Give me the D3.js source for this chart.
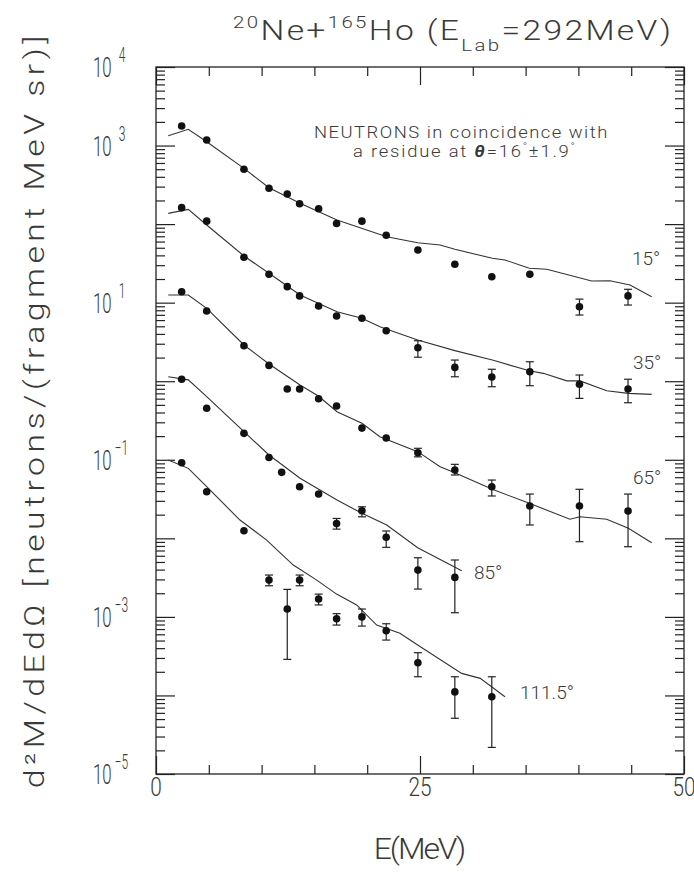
<!DOCTYPE html>
<html><head><meta charset="utf-8">
<script src="https://cdn.jsdelivr.net/npm/d3@7"></script>
<style>
body{margin:0;background:#fff}
text{font-family:Roboto,'DejaVu Sans',sans-serif;font-weight:300;fill:#3a3a3a}
</style></head>
<body><svg id="c" width="694" height="872"></svg>
<script>
// ---------- data ----------
const seriesLabels = ["15°","35°","65°","85°","111.5°"];
const E_full = [2.43,4.8,8.33,10.7,12.43,13.6,15.4,17.1,19.5,21.8,24.8,28.3,31.8,35.4,40.1,44.7];
const E_85   = [2.43,4.8,8.33,10.7,11.9,13.6,15.4,17.1,19.5,21.8,24.8,28.3];
const E_111  = [2.43,4.8,8.33,10.7,12.43,13.6,15.4,17.1,19.5,21.8,24.8,28.3,31.8];

const V15 = [1774,1177,499,286,242,182,157,102,109,72,46.8,30.8,21.4,23.0,8.88,12.2];
const V35 = [162,109,37.8,23.0,16.0,12.2,9.07,6.76,6.32,4.40,2.67,1.50,1.13,1.32,0.914,0.796];
const V65 = [13.8,7.83,2.83,1.59,0.796,0.796,0.598,0.483,0.253,0.189,0.123,0.0740,0.0454,0.0258,0.0258,0.0223];
const V85 = [1.06,0.452,0.217,0.107,0.0692,0.0454,0.0366,0.0154,0.0224,0.0103,0.00394,0.00318];
const V111 = [0.0917,0.0392,0.0125,0.00294,0.00126,0.00294,0.00169,0.000946,0.00100,0.000667,0.000261,0.000111,0.0000962];

const N = null;
const LO15 = [N,N,N,N,N,N,N,N,N,N,N,N,N,N,6.96,9.33];
const HI15 = [N,N,N,N,N,N,N,N,N,N,N,N,N,N,11.1,14.8];
const LO35 = [N,N,N,N,N,N,N,N,N,N,2.02,1.14,0.851,0.877,0.605,0.532];
const HI35 = [N,N,N,N,N,N,N,N,N,N,3.28,1.86,1.42,1.77,1.20,1.06];
const LO65 = [N,N,N,N,N,N,N,N,N,N,0.109,0.0640,0.0346,0.0148,0.00906,0.00782];
const HI65 = [N,N,N,N,N,N,N,N,N,N,0.140,0.0875,0.0552,0.0366,0.0421,0.0366];
const LO85 = [N,N,N,N,N,N,N,0.0131,0.0188,0.00768,0.00226,0.00113];
const HI85 = [N,N,N,N,N,N,N,0.0179,0.0252,0.0124,0.00566,0.00530];
const LO111 = [N,N,N,0.00249,0.000288,0.00249,0.00142,0.000787,0.000764,0.000507,0.000173,0.0000512,0.0000218];
const HI111 = [N,N,N,0.00341,0.00224,0.00341,0.00195,0.00110,0.00126,0.000818,0.000350,0.000173,0.000173];

const C15E = [1.16,3.06,4.8,8.33,10.7,13.64,17.14,21.85,24.78,26.9,28.3,31.85,33.05,35.35,37.0,41.26,42.99,44.89,46.94];
const C15V = [1334,1610,1119,513,290,184,113,69.2,58.0,54.2,47.8,36.7,34.9,27.4,26.6,18.9,19.0,16.8,11.9];
const C35E = [1.16,3.06,4.8,8.33,10.7,13.64,17.14,19.5,21.2,24.78,28.3,31.85,35.35,36.68,38.9,40.15,42.68,44.73,46.94];
const C35V = [137,154,97.5,39.3,23.7,12.5,7.67,6.32,4.94,3.35,2.45,1.86,1.36,1.26,1.01,1.01,0.757,0.701,0.681];
const C65E = [1.16,3.06,4.8,8.33,10.7,13.64,15.37,17.14,19.5,21.2,24.78,26.9,28.3,31.85,35.35,39.2,40.15,42.68,44.73,46.94];
const C65V = [12.5,12.5,8.47,2.89,1.66,0.895,0.649,0.409,0.291,0.197,0.127,0.0815,0.0684,0.0421,0.0279,0.0175,0.0188,0.0175,0.0134,0.00879];
const C85E = [1.16,3.06,4.8,8.33,10.7,13.64,17.14,19.5,21.85,24.78,28.95];
const C85V = [1.14,1.04,0.635,0.228,0.115,0.0581,0.0308,0.0208,0.0148,0.0076,0.00387];
const C111E = [1.16,3.06,4.8,7.95,10.48,13.0,15.22,17.1,19.0,20.9,23.1,24.78,28.95,30.7,33.05];
const C111V = [0.0993,0.0778,0.0454,0.0171,0.00951,0.00457,0.00294,0.00195,0.00142,0.000787,0.000618,0.000439,0.000191,0.000165,0.0000962];

const xTickLabels = ["0","25","50"];
const yLabelExp = ["4","3","1","−1","−3","−5"];
const yLabelVals = [1e4,1e3,1e1,1e-1,1e-3,1e-5];

// ---------- layout ----------
const L=156, R=684, T=67, B=774;
const svg = d3.select("#c");
const x = d3.scaleLinear().domain([0,50]).range([L,R]);
const y = d3.scaleLog().domain([1e-5,1e4]).range([B,T]);

const series = [
  {E:E_full,V:V15,lo:LO15,hi:HI15,cE:C15E,cV:C15V},
  {E:E_full,V:V35,lo:LO35,hi:HI35,cE:C35E,cV:C35V},
  {E:E_full,V:V65,lo:LO65,hi:HI65,cE:C65E,cV:C65V},
  {E:E_85,V:V85,lo:LO85,hi:HI85,cE:C85E,cV:C85V},
  {E:E_111,V:V111,lo:LO111,hi:HI111,cE:C111E,cV:C111V}
];

// frame
svg.append("rect").attr("x",L).attr("y",T).attr("width",R-L).attr("height",B-T)
  .attr("fill","none").attr("stroke","#222").attr("stroke-width",1.3);

// ticks via d3 axes
const majX=[0,25,50], minX=d3.range(5,50,5).filter(v=>v!==25);
const axisStyle = g=>{g.select(".domain").remove();g.selectAll("line").attr("stroke","#222").attr("stroke-width",1.2);g.selectAll("text").remove();};
svg.append("g").attr("transform",`translate(0,${B})`).call(d3.axisTop(x).tickValues(majX).tickSize(18)).call(axisStyle);
svg.append("g").attr("transform",`translate(0,${B})`).call(d3.axisTop(x).tickValues(minX).tickSize(9)).call(axisStyle);
svg.append("g").attr("transform",`translate(0,${T})`).call(d3.axisBottom(x).tickValues(majX).tickSize(18)).call(axisStyle);
svg.append("g").attr("transform",`translate(0,${T})`).call(d3.axisBottom(x).tickValues(minX).tickSize(9)).call(axisStyle);

const majY = d3.range(-5,5).map(e=>Math.pow(10,e));
const minY = [];
d3.range(-5,4).forEach(e=>{for(let k=2;k<=9;k++) minY.push(k*Math.pow(10,e));});
svg.append("g").attr("transform",`translate(${L},0)`).call(d3.axisRight(y).tickValues(majY).tickSize(19)).call(axisStyle);
svg.append("g").attr("transform",`translate(${L},0)`).call(d3.axisRight(y).tickValues(minY).tickSize(9)).call(axisStyle);
svg.append("g").attr("transform",`translate(${R},0)`).call(d3.axisLeft(y).tickValues(majY).tickSize(19)).call(axisStyle);
svg.append("g").attr("transform",`translate(${R},0)`).call(d3.axisLeft(y).tickValues(minY).tickSize(9)).call(axisStyle);

// y tick labels: narrow glyphs via horizontal scale
yLabelVals.forEach((v,i)=>{
  const ex = yLabelExp[i];
  const t = svg.append("text").attr("transform",`translate(93,${y(v)+10}) scale(0.6,1)`).attr("font-size",28);
  t.append("tspan").text("10");
  t.append("tspan").attr("dx",ex.length>1?5:12).attr("dy",-15).attr("font-size",20).text(ex);
});
xTickLabels.forEach(s=>{
  svg.append("text").attr("transform",`translate(${x(+s)},796) scale(0.8,1)`).attr("text-anchor","middle")
    .attr("font-size",26).text(s);
});
svg.append("text").attr("transform",`translate(${x(25)},859) scale(1.1,1)`).attr("text-anchor","middle").attr("font-size",29)
  .attr("textLength",84).attr("lengthAdjust","spacing").text("E(MeV)");

// y title (widened glyphs + spacing)
svg.append("text").attr("transform",`translate(44,412) rotate(-90) scale(1.25,1)`).attr("text-anchor","middle")
  .attr("font-size",27).attr("textLength",602).attr("lengthAdjust","spacing")
  .text("d²M/dEdΩ [neutrons/(fragment MeV sr)]");

// title
const tt = svg.append("text").attr("transform","translate(233,40) scale(1.2,1)").attr("font-size",28)
  .attr("textLength",365).attr("lengthAdjust","spacing");
tt.append("tspan").attr("font-size",17).attr("dy",-12).text("20");
tt.append("tspan").attr("dy",12).text("Ne+");
tt.append("tspan").attr("font-size",17).attr("dy",-12).text("165");
tt.append("tspan").attr("dy",12).text("Ho (E");
tt.append("tspan").attr("font-size",17).attr("dy",11).text("Lab");
tt.append("tspan").attr("dy",-11).text("=292MeV)");

// annotation
svg.append("text").attr("transform","translate(314,138) scale(1.15,1)").attr("font-size",16)
  .attr("textLength",255).attr("lengthAdjust","spacing").text("NEUTRONS in coincidence with");
const a2 = svg.append("text").attr("transform","translate(353,157) scale(1.15,1)").attr("font-size",16)
  .attr("textLength",193).attr("lengthAdjust","spacing");
a2.append("tspan").text("a residue at ");
a2.append("tspan").attr("font-style","italic").attr("font-weight",700).text("θ");
a2.append("tspan").text("=16");
a2.append("tspan").attr("dy",-7).attr("font-size",10).text("°");
a2.append("tspan").attr("dy",7).text("±1.9");
a2.append("tspan").attr("dy",-7).attr("font-size",10).text("°");

// series labels
const labelPos = [[632,265],[633,369],[633,484],[474,579],[520,699]];
seriesLabels.forEach((s,i)=>{
  svg.append("text").attr("x",labelPos[i][0]).attr("y",labelPos[i][1]).attr("font-size",19).text(s);
});

// curves
const line = d3.line().x(d=>x(d[0])).y(d=>y(d[1]));
series.forEach(s=>{
  svg.append("path").attr("d",line(s.cE.map((e,i)=>[e,s.cV[i]])))
    .attr("fill","none").attr("stroke","#333").attr("stroke-width",1.1);
});

// error bars and points
series.forEach(s=>{
  s.E.forEach((e,i)=>{
    if(s.lo[i]!=null){
      const g = svg.append("g").attr("stroke","#222").attr("stroke-width",1.2);
      g.append("line").attr("x1",x(e)).attr("x2",x(e)).attr("y1",y(s.lo[i])).attr("y2",y(s.hi[i]));
      g.append("line").attr("x1",x(e)-4).attr("x2",x(e)+4).attr("y1",y(s.lo[i])).attr("y2",y(s.lo[i]));
      g.append("line").attr("x1",x(e)-4).attr("x2",x(e)+4).attr("y1",y(s.hi[i])).attr("y2",y(s.hi[i]));
    }
  });
  svg.append("g").selectAll("circle").data(s.E.map((e,i)=>[e,s.V[i]])).join("circle")
    .attr("cx",d=>x(d[0])).attr("cy",d=>y(d[1])).attr("r",3.8).attr("fill","#111");
});
</script></body></html>
